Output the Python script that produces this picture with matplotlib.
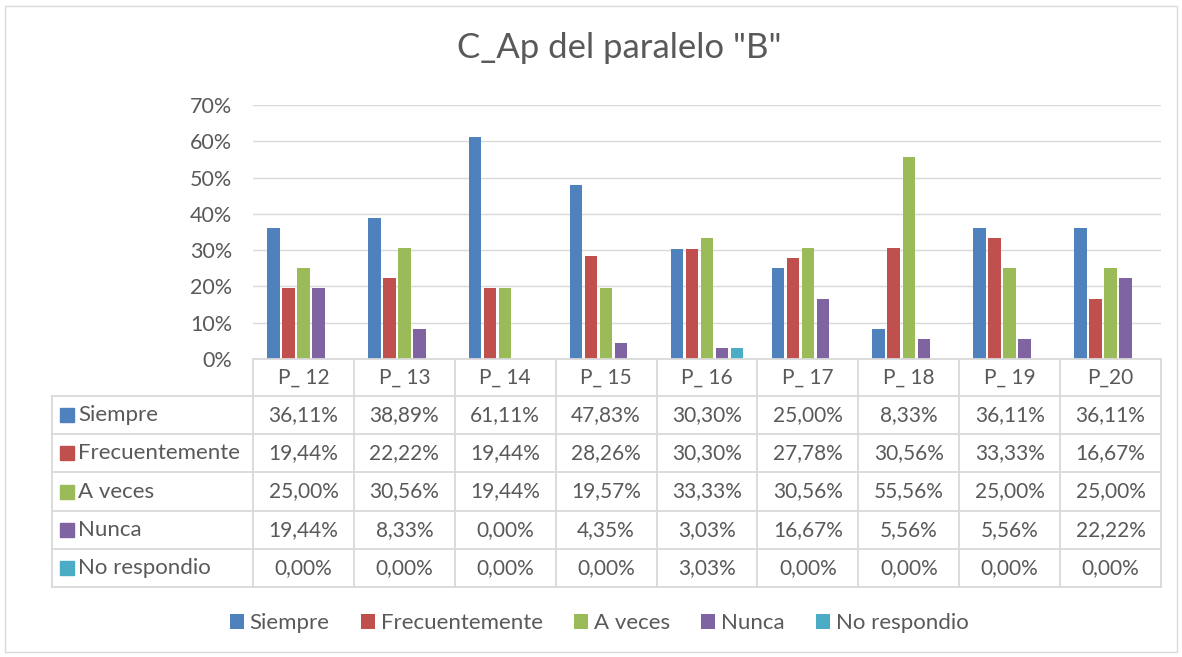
import matplotlib
matplotlib.use("Agg")
import matplotlib.pyplot as plt
from matplotlib.patches import Patch, Rectangle
import numpy as np

plt.rcParams['font.family'] = ['Lato', 'DejaVu Sans']

title = 'C_Ap del paralelo "B"'
categories = ["P_ 12", "P_ 13", "P_ 14", "P_ 15", "P_ 16", "P_ 17", "P_ 18", "P_ 19", "P_20"]
series_names = ["Siempre", "Frecuentemente", "A veces", "Nunca", "No respondio"]
siempre = [36.11, 38.89, 61.11, 47.83, 30.30, 25.00, 8.33, 36.11, 36.11]
frecuentemente = [19.44, 22.22, 19.44, 28.26, 30.30, 27.78, 30.56, 33.33, 16.67]
a_veces = [25.00, 30.56, 19.44, 19.57, 33.33, 30.56, 55.56, 25.00, 25.00]
nunca = [19.44, 8.33, 0.00, 4.35, 3.03, 16.67, 5.56, 5.56, 22.22]
no_respondio = [0.00, 0.00, 0.00, 0.00, 3.03, 0.00, 0.00, 0.00, 0.00]
y_ticks = [0, 10, 20, 30, 40, 50, 60, 70]

series = [siempre, frecuentemente, a_veces, nunca, no_respondio]
colors = ["#4F81BD", "#C0504D", "#9BBB59", "#8064A2", "#4BACC6"]
text_color = "#595959"
grid_color = "#D9D9D9"

W, H = 1182, 657
fig = plt.figure(figsize=(W / 100, H / 100), dpi=100)

# outer border
fig.add_artist(Rectangle((5 / W, 5 / H), 1172 / W, 646 / H, transform=fig.transFigure,
                         fill=False, edgecolor=grid_color, linewidth=1))

# plot area in pixels
x0, x1 = 253, 1161
y_top, y_bot = 105, 359
ax = fig.add_axes([x0 / W, (H - y_bot) / H, (x1 - x0) / W, (y_bot - y_top) / H])
n = len(categories)
x = np.arange(n)
step = 0.149
bw = 0.124
for i, (vals, c) in enumerate(zip(series, colors)):
    ax.bar(x + (i - 2) * step, np.array(vals) / 100, width=bw, color=c, zorder=3)
ax.set_xlim(-0.5, n - 0.5)
ax.set_ylim(0, 0.7)
ax.set_yticks([t / 100 for t in y_ticks])
ax.set_yticklabels([f"{t}%" for t in y_ticks], color=text_color, fontsize=15.5)
ax.tick_params(axis='y', length=0, pad=15)
ax.set_xticks([])
ax.grid(axis='y', color=grid_color, linewidth=1, zorder=0)
for s in ax.spines.values():
    s.set_visible(False)
ax.set_facecolor('none')

# title
fig.text(619 / W, 1 - 48 / H, title, ha='center', va='center',
         fontsize=25, color=text_color)

# data table (pixel overlay)
tax = fig.add_axes([0, 0, 1, 1])
tax.set_xlim(0, W)
tax.set_ylim(H, 0)
tax.axis('off')
tcol = (x1 - x0) / n
row_edges = [359, 396, 434, 472, 511, 549, 587]
left = 52
lw = 1.3
tax.plot([x0, x1], [row_edges[0]] * 2, color=grid_color, lw=lw)
for ry in row_edges[1:]:
    tax.plot([left, x1], [ry, ry], color=grid_color, lw=lw)
tax.plot([left, left], [row_edges[1], row_edges[-1]], color=grid_color, lw=lw)
for j in range(n + 1):
    xx = x0 + j * tcol
    tax.plot([xx, xx], [row_edges[0], row_edges[-1]], color=grid_color, lw=lw)
fs_num = 15
fs_lab = 16
for j, cat in enumerate(categories):
    cx = x0 + (j + 0.5) * tcol
    tax.text(cx, (row_edges[0] + row_edges[1]) / 2, cat, ha='center', va='center',
             fontsize=fs_num, color=text_color)
for i, (name, vals, c) in enumerate(zip(series_names, series, colors)):
    cy = (row_edges[i + 1] + row_edges[i + 2]) / 2
    tax.add_patch(Rectangle((60, cy - 7), 14, 14, color=c))
    tax.text(78, cy, name, ha='left', va='center', fontsize=fs_lab, color=text_color)
    for j, v in enumerate(vals):
        cx = x0 + (j + 0.5) * tcol
        tax.text(cx, cy, f"{v:.2f}%".replace('.', ','), ha='center', va='center',
                 fontsize=fs_num, color=text_color)

# legend
handles = [Patch(facecolor=c, edgecolor='none') for c in colors]
fig.legend(handles, series_names, loc='center', bbox_to_anchor=(599 / W, 1 - 623 / H),
           ncol=5, frameon=False, fontsize=16, labelcolor=text_color,
           handlelength=0.65, handleheight=0.65, handletextpad=0.25, columnspacing=1.4)

fig.savefig("out.png", dpi=100)
